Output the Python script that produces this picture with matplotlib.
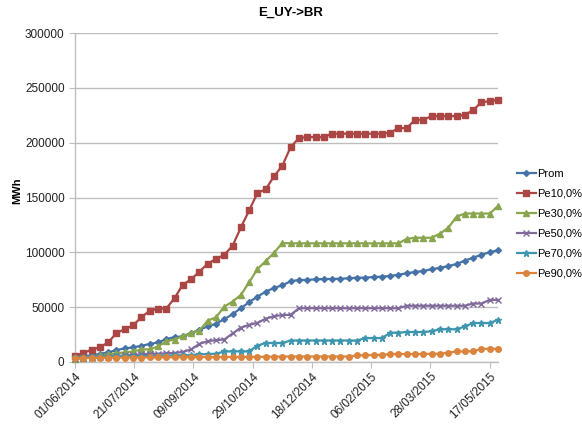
import numpy as np
import pandas as pd
import matplotlib
matplotlib.use("Agg")
import matplotlib.pyplot as plt
import matplotlib.dates as mdates

plt.rcParams["font.family"] = ["Liberation Sans", "DejaVu Sans"]

# weekly dates, 01/06/2014 .. 24/05/2015
dates = pd.date_range("2014-06-01", periods=52, freq="7D")

prom = [5000, 5500, 6000, 7500, 8700, 11000, 12400, 13300, 14800, 16400,
        17800, 20900, 22700, 23300, 26400, 29400, 32400, 34800, 39100, 43600,
        49100, 54500, 59600, 64200, 67500, 70000, 73600, 74800, 74800, 75400,
        75700, 75700, 76000, 76300, 76900, 76900, 77500, 77800, 78500, 79600,
        80900, 82100, 83000, 84500, 86000, 87300, 89400, 92400, 95100, 97800,
        100000, 102100]
pe10 = [5700, 8200, 11200, 13600, 17800, 26400, 30000, 33300, 40900, 46600,
        48700, 48700, 58200, 70500, 75400, 82400, 89600, 93900, 97800, 106000,
        122700, 138200, 154200, 157500, 169400, 179000, 196000, 204200, 205100, 205100,
        205100, 208200, 208200, 208200, 208200, 208200, 208200, 208200, 209000, 213300,
        213300, 220900, 220900, 224200, 224200, 224200, 224200, 225400, 229600, 236900,
        237800, 239100]
pe30 = [3000, 4000, 5000, 6000, 7000, 8000, 8700, 9600, 11500, 11500,
        14200, 18700, 20500, 23600, 26600, 28700, 37700, 40700, 50500, 55100,
        61200, 72700, 84800, 92100, 99600, 108500, 108200, 108200, 108200, 108200,
        108200, 108200, 108200, 108200, 108200, 108200, 108200, 108200, 108200, 108200,
        112300, 113300, 113300, 113300, 117000, 122400, 132400, 135400, 135400, 135400,
        135400, 142200]
pe50 = [3000, 3500, 4000, 4500, 5000, 5500, 6000, 6500, 7000, 7500,
        7500, 8000, 8200, 9200, 11500, 16500, 19000, 20000, 20500, 26000,
        31300, 33900, 35700, 39500, 41800, 42800, 43000, 49000, 49000, 49000,
        49000, 49000, 49000, 49000, 49000, 49000, 49000, 49000, 49000, 49000,
        51300, 51300, 51300, 51300, 51300, 51300, 51300, 51300, 53300, 53300,
        56600, 56600]
pe70 = [4500, 4700, 4800, 5000, 5000, 5200, 5300, 5400, 5500, 5600,
        5700, 5800, 6000, 6000, 6200, 7000, 7200, 7500, 9600, 9600,
        9600, 9600, 15000, 17300, 17300, 17300, 19600, 19600, 19600, 19600,
        19600, 19600, 19600, 19600, 19600, 21800, 21800, 21800, 26600, 26800,
        27300, 27300, 27300, 28000, 29800, 29800, 29800, 32400, 35500, 35500,
        35500, 38500]
pe90 = [3500, 3600, 3700, 3800, 3900, 4000, 4000, 4100, 4100, 4200,
        4200, 4300, 4300, 4400, 4400, 4500, 4500, 4500, 4600, 4600,
        4600, 4700, 4700, 4800, 4800, 5000, 5000, 5000, 5000, 5000,
        5000, 5000, 5000, 5000, 6000, 6200, 6400, 6500, 7300, 7300,
        7300, 7300, 7300, 7500, 7500, 8500, 9600, 9600, 9800, 12000,
        12000, 12000]

series = [
    ("Prom", prom, "#4572A7", "D", 3),
    ("Pe10,0%", pe10, "#AA4643", "s", 4),
    ("Pe30,0%", pe30, "#89A54E", "^", 4),
    ("Pe50,0%", pe50, "#80699B", "x", 4),
    ("Pe70,0%", pe70, "#3D96AE", "*", 4.5),
    ("Pe90,0%", pe90, "#DB843D", "o", 4),
]

fig = plt.figure(figsize=(5.82, 4.25), dpi=100)
ax = fig.add_axes([75 / 582, 1 - 362 / 425, 423 / 582, 329 / 425])

for name, vals, color, marker, ms in series:
    ax.plot(dates, vals, color=color, marker=marker, markersize=ms, lw=1.6,
            markeredgewidth=1, label=name, clip_on=False, zorder=3)

ax.set_xlim(dates[0], dates[-1])
ax.set_ylim(0, 300000)
ax.set_yticks(np.arange(0, 300001, 50000))
ax.yaxis.grid(True, color="#BEBEBE", lw=1)
ax.set_axisbelow(True)

ticks = pd.date_range("2014-06-01", "2015-05-24", freq="50D")
ax.set_xticks(ticks)
ax.xaxis.set_major_formatter(mdates.DateFormatter("%d/%m/%Y"))
plt.setp(ax.get_xticklabels(), rotation=45, ha="right", rotation_mode="anchor")

for s in ["top", "right"]:
    ax.spines[s].set_visible(False)
for s in ["left", "bottom"]:
    ax.spines[s].set_color("#BEBEBE")
    ax.spines[s].set_linewidth(1)
ax.tick_params(colors="#BEBEBE", labelcolor="#222222", labelsize=8.5, length=4)
ax.tick_params(axis="x", pad=2)

ax.set_ylabel("MWh", fontsize=8, fontweight="bold")
ax.yaxis.set_label_coords(-0.125, 0.52)
fig.suptitle("E_UY->BR", x=0.5, y=0.985, fontsize=9.5, fontweight="bold")

ax.legend(loc="center left", bbox_to_anchor=(1.045, 0.42), frameon=False,
          fontsize=8, handlelength=1.7, handletextpad=0.15, labelspacing=0.9,
          borderaxespad=0, borderpad=0)

fig.savefig("out.png", dpi=100)
